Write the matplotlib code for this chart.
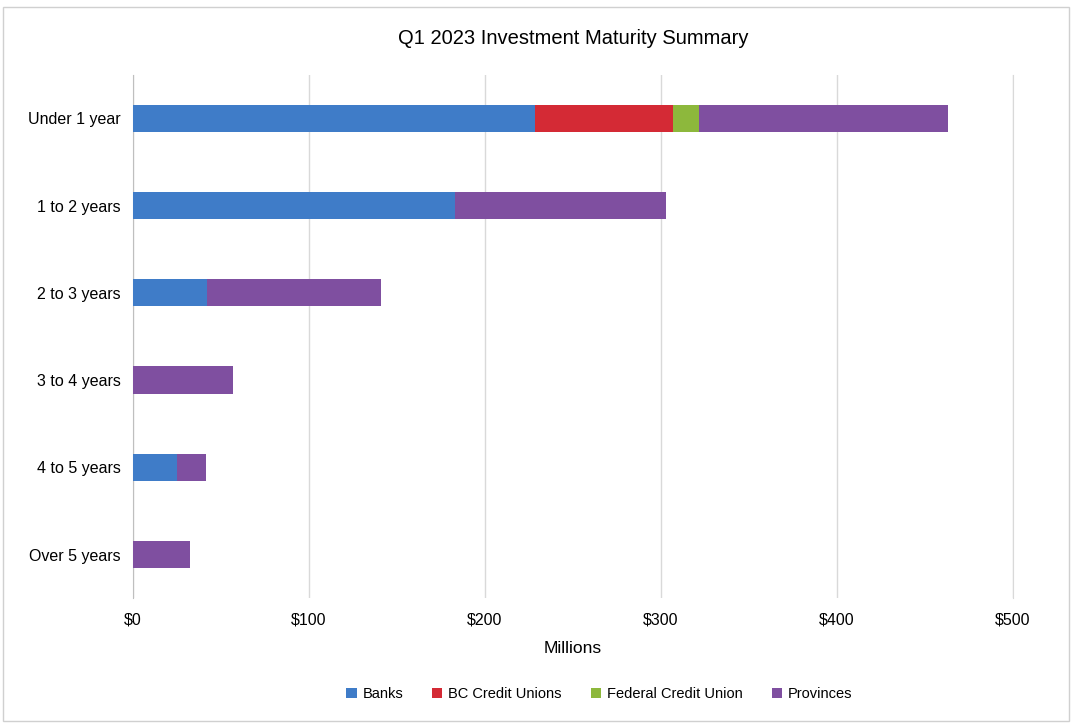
import matplotlib
matplotlib.use('Agg')
import numpy as np
import matplotlib.pyplot as plt
from matplotlib.ticker import FuncFormatter

categories = ['Under 1 year', '1 to 2 years', '2 to 3 years',
              '3 to 4 years', '4 to 5 years', 'Over 5 years']
banks      = [228.5, 183.0, 42.0, 0.0, 25.0, 0.0]
bc_cu      = [78.5, 0.0, 0.0, 0.0, 0.0, 0.0]
federal_cu = [14.5, 0.0, 0.0, 0.0, 0.0, 0.0]
provinces  = [141.5, 120.0, 99.0, 57.0, 16.5, 32.5]

series = [('Banks', banks, '#3f7cc8'),
          ('BC Credit Unions', bc_cu, '#d42a35'),
          ('Federal Credit Union', federal_cu, '#8db83c'),
          ('Provinces', provinces, '#7f4fa0')]

plt.rcParams['font.family'] = ['Liberation Sans', 'DejaVu Sans']

fig = plt.figure(figsize=(10.72, 7.25), dpi=100)
ax = fig.add_axes([0.124, 0.175, 0.821, 0.722])

y = np.arange(len(categories))
left = np.zeros(len(categories))
for name, vals, col in series:
    vals = np.array(vals)
    ax.barh(y, vals, left=left, height=0.31, color=col, label=name, zorder=3)
    left += vals

ax.set_ylim(len(categories) - 0.5, -0.5)
ax.set_yticks(y)
ax.set_yticklabels(categories, fontsize=11.5)
ax.set_xlim(0, 500)
ax.set_xticks(np.arange(0, 501, 100))
ax.xaxis.set_major_formatter(FuncFormatter(lambda v, p: '$%d' % v))
ax.tick_params(axis='x', labelsize=11.5, length=0, pad=10)
ax.tick_params(axis='y', length=0, pad=9)
ax.grid(axis='x', color='#d9d9d9', linewidth=1, zorder=0)
for s in ['top', 'bottom']:
    ax.spines[s].set_visible(False)
ax.spines['right'].set_color('#d9d9d9')
ax.spines['left'].set_color('#bfbfbf')

ax.set_xlabel('Millions', fontsize=12.5, labelpad=10)
ax.set_title('Q1 2023 Investment Maturity Summary', fontsize=14.5, pad=22)

ax.legend(loc='upper center', bbox_to_anchor=(0.53, -0.145), ncol=4,
          frameon=False, fontsize=10.5, handlelength=0.7, handleheight=0.7,
          columnspacing=2.0, handletextpad=0.4)

fig.patches.append(plt.Rectangle((0.003, 0.005), 0.994, 0.985, transform=fig.transFigure,
                                 fill=False, edgecolor='#d0d0d0', linewidth=1))

plt.savefig('out.png', dpi=100)
plt.close()
